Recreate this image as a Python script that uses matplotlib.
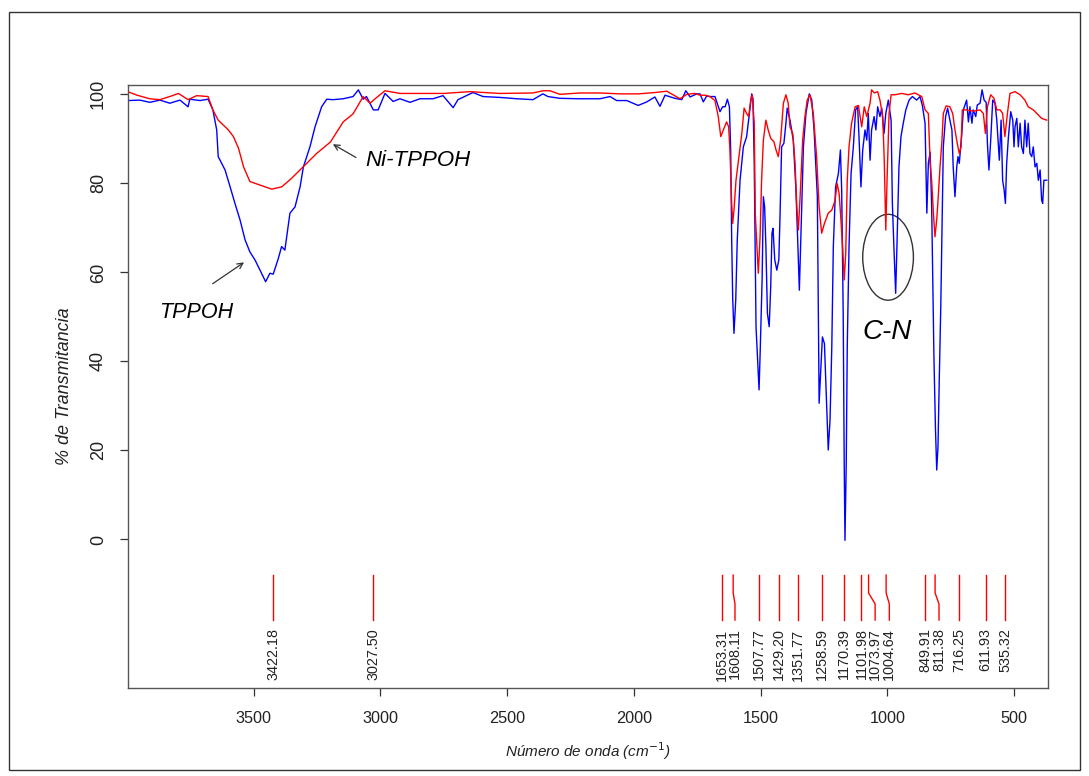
import matplotlib
matplotlib.use("Agg")
import matplotlib.pyplot as plt
from matplotlib.patches import Ellipse, Rectangle

plt.rcParams['font.family'] = ['Liberation Sans', 'DejaVu Sans']

# TPPOH (blue)
tppoh_wn = [3997, 3949, 3910, 3870, 3831, 3791, 3759, 3752, 3712, 3680,
            3661, 3646, 3640, 3613, 3593, 3574, 3554, 3534, 3515, 3495,
            3475, 3453, 3436, 3423, 3403, 3390, 3377, 3357, 3337, 3317,
            3304, 3278, 3258, 3232, 3212, 3187, 3147, 3108, 3087, 3068,
            3055, 3028, 3009, 2982, 2950, 2923, 2883, 2844, 2793, 2753,
            2713, 2694, 2635, 2595, 2528, 2461, 2398, 2359, 2339, 2292,
            2213, 2134, 2094, 2068, 2028, 1983, 1949, 1917, 1897, 1877,
            1838, 1811, 1795, 1778, 1752, 1739, 1726, 1713, 1700, 1680,
            1660, 1650, 1640, 1631, 1623, 1618, 1614, 1610, 1605, 1598,
            1592, 1581, 1568, 1555, 1544, 1535, 1530, 1525, 1518, 1513,
            1506, 1501, 1494, 1489, 1484, 1479, 1473, 1466, 1460, 1455,
            1451, 1444, 1436, 1428, 1423, 1417, 1408, 1400, 1395, 1384,
            1371, 1361, 1354, 1347, 1341, 1331, 1321, 1308, 1298, 1289,
            1276, 1269, 1256, 1248, 1243, 1233, 1226, 1219, 1213, 1204,
            1193, 1185, 1180, 1174, 1170, 1167, 1162, 1158, 1151, 1143,
            1134, 1125, 1117, 1110, 1104, 1097, 1088, 1081, 1075, 1068,
            1062, 1052, 1045, 1038, 1029, 1022, 1013, 1006, 996, 985,
            980, 974, 967, 962, 954, 946, 937, 927, 914, 901,
            884, 871, 862, 851, 844, 838, 831, 825, 821, 816,
            810, 805, 800, 795, 789, 784, 779, 770, 762, 753,
            745, 740, 733, 726, 721, 716, 706, 700, 687, 680,
            674, 666, 661, 651, 645, 634, 626, 618, 610, 605,
            599, 592, 584, 575, 568, 563, 558, 551, 545, 539,
            534, 529, 522, 513, 505, 500, 496, 489, 483, 476,
            470, 463, 457, 450, 444, 437, 430, 424, 417, 410,
            404, 397, 391, 387, 382, 371]
tppoh_t = [98.6, 98.7, 98.2, 98.7, 98.0, 98.7, 97.2, 98.9, 98.6, 98.9,
           96.5, 92.0, 86.0, 83.0, 79.2, 75.5, 71.8, 67.3, 64.6, 62.8,
           60.5, 57.9, 59.8, 59.6, 63.1, 65.8, 65.0, 73.3, 74.7, 79.2,
           83.7, 88.2, 92.7, 97.2, 98.9, 98.8, 99.0, 99.5, 101.0, 98.9,
           99.5, 96.5, 96.5, 100.2, 98.4, 99.0, 98.2, 99.0, 99.0, 99.7,
           97.0, 98.8, 100.4, 99.5, 99.3, 99.0, 98.8, 100.1, 99.5, 99.1,
           99.0, 99.0, 99.5, 98.6, 98.6, 97.5, 98.3, 99.4, 97.3, 99.8,
           99.1, 98.8, 100.8, 99.4, 100.1, 100.1, 98.3, 99.6, 99.5, 99.5,
           96.1, 97.2, 97.2, 98.9, 97.2, 87.5, 67.3, 54.2, 46.3, 53.8,
           67.3, 80.7, 88.2, 90.5, 95.7, 100.1, 99.0, 84.5, 47.8, 41.8,
           33.6, 43.3, 58.3, 77.0, 74.7, 65.8, 50.8, 47.8, 56.8, 68.8,
           69.9, 62.8, 60.5, 62.8, 73.3, 88.2, 89.0, 93.5, 96.9, 94.2,
           89.7, 79.2, 68.0, 56.0, 68.0, 88.2, 95.7, 100.1, 98.7, 92.0,
           77.0, 30.6, 45.5, 44.0, 35.8, 20.1, 26.8, 43.3, 65.8, 79.2,
           82.2, 87.5, 78.5, 50.8, 17.1, -0.2, 17.1, 43.3, 65.8, 82.2,
           88.2, 96.5, 97.2, 88.2, 79.2, 87.5, 92.0, 89.7, 95.7, 85.2,
           92.0, 95.0, 92.0, 97.2, 95.0, 96.9, 91.2, 95.7, 98.7, 94.2,
           75.5, 65.8, 55.3, 65.8, 83.7, 90.5, 93.5, 96.5, 98.7, 99.5,
           98.7, 99.5, 97.6, 93.5, 73.3, 84.5, 87.0, 75.0, 60.0, 41.0,
           25.0, 15.6, 20.8, 35.8, 52.3, 69.5, 88.2, 95.0, 96.9, 94.2,
           92.0, 83.7, 77.0, 83.7, 86.0, 84.5, 91.2, 96.5, 98.7, 93.8,
           97.2, 93.5, 96.5, 95.0, 97.6, 98.0, 101.0, 98.7, 98.2, 89.0,
           83.0, 89.7, 98.7, 98.0, 94.2, 89.7, 85.2, 94.2, 80.7, 78.5,
           75.5, 84.5, 90.5, 96.1, 94.2, 88.2, 92.7, 94.6, 88.2, 93.5,
           88.2, 86.7, 94.2, 88.2, 93.5, 86.7, 86.0, 88.2, 83.7, 84.5,
           80.7, 83.0, 76.2, 75.5, 80.7, 80.7]

# Ni-TPPOH (red)
ni_wn = [3997, 3960, 3910, 3870, 3826, 3797, 3759, 3725, 3680, 3661,
         3640, 3600, 3580, 3560, 3540, 3515, 3475, 3429, 3390, 3351,
         3298, 3252, 3197, 3147, 3108, 3068, 3041, 3021, 2982, 2923,
         2850, 2750, 2647, 2530, 2400, 2357, 2331, 2292, 2213, 2134,
         2055, 1983, 1917, 1870, 1818, 1791, 1760, 1739, 1719, 1700,
         1680, 1667, 1657, 1647, 1634, 1626, 1621, 1614, 1610, 1604,
         1597, 1584, 1574, 1565, 1555, 1547, 1539, 1533, 1525, 1521,
         1515, 1509, 1502, 1496, 1489, 1479, 1470, 1460, 1447, 1439,
         1430, 1421, 1410, 1400, 1391, 1384, 1373, 1364, 1357, 1351,
         1344, 1334, 1325, 1316, 1305, 1292, 1279, 1269, 1259, 1248,
         1233, 1219, 1206, 1198, 1190, 1183, 1175, 1170, 1164, 1158,
         1151, 1141, 1127, 1114, 1101, 1091, 1081, 1068, 1062, 1051,
         1038, 1029, 1018, 1012, 1006, 1001, 993, 985, 970, 943,
         917, 891, 864, 851, 838, 831, 825, 818, 812, 805,
         799, 792, 785, 779, 768, 753, 742, 733, 724, 716,
         709, 704, 687, 661, 634, 621, 613, 605, 592, 579,
         568, 555, 545, 536, 526, 516, 496, 476, 457, 444,
         424, 410, 391, 371]
ni_t = [100.6, 99.8, 99.0, 98.8, 99.6, 100.2, 98.8, 99.7, 99.5, 96.5,
        94.2, 92.0, 90.5, 87.9, 83.7, 80.4, 79.6, 78.7, 79.2, 81.1,
        84.1, 86.7, 89.3, 93.8, 95.6, 99.5, 98.0, 99.0, 100.8, 100.2,
        100.2, 100.2, 100.6, 100.2, 100.3, 100.8, 100.8, 100.0, 100.3, 100.3,
        100.1, 100.1, 100.4, 100.7, 99.0, 100.0, 100.2, 99.8, 99.8, 99.5,
        98.6, 95.0, 90.5, 92.0, 93.8, 92.7, 87.5, 75.5, 71.0, 74.7,
        80.7, 86.7, 91.2, 96.9, 95.7, 95.0, 98.7, 99.9, 93.5, 73.3,
        66.5, 59.8, 68.0, 80.7, 89.7, 94.2, 92.0, 90.1, 89.3, 87.5,
        86.0, 89.7, 98.0, 99.9, 98.0, 92.7, 91.2, 84.5, 74.7, 69.5,
        77.0, 89.7, 95.0, 98.7, 99.9, 95.7, 86.0, 74.7, 68.8, 71.0,
        73.3, 74.0, 76.2, 80.0, 77.7, 71.8, 64.3, 58.3, 64.3, 80.7,
        88.2, 93.5, 97.2, 97.5, 92.7, 97.2, 95.0, 98.0, 101.0, 100.3,
        100.6, 98.7, 95.0, 85.2, 69.5, 80.7, 95.7, 99.9, 99.9, 100.2,
        99.9, 100.3, 99.5, 96.5, 95.7, 84.5, 80.7, 73.3, 68.0, 71.8,
        77.0, 83.7, 89.0, 95.7, 97.4, 97.2, 95.7, 92.0, 89.0, 86.7,
        88.2, 96.5, 96.5, 96.2, 96.5, 95.7, 91.2, 97.2, 99.9, 99.1,
        96.5, 96.5, 95.7, 90.5, 95.7, 100.2, 100.6, 99.9, 98.7, 97.2,
        96.5, 95.7, 94.6, 94.2]

# peak marks: real position, where the label sits, label text
peak_wn = [3422.18, 3027.50, 1653.31, 1608.11, 1507.77, 1429.20, 1351.77, 1258.59,
           1170.39, 1101.98, 1073.97, 1004.64, 849.91, 811.38, 716.25, 611.93, 535.32]
label_wn = [3422.18, 3027.50, 1653.31, 1601, 1507.77, 1429.20, 1351.77, 1258.59,
            1170.39, 1101.98, 1048, 992, 849.91, 796, 716.25, 611.93, 535.32]
peak_txt = ["%.2f" % p for p in peak_wn]

fig = plt.figure(figsize=(10.89, 7.76), dpi=100)
ax = fig.add_axes([0.1173, 0.1138, 0.8448, 0.7767])

ax.plot(tppoh_wn, tppoh_t, color='#0000ff', lw=1.0)
ax.plot(ni_wn, ni_t, color='#ff0000', lw=1.0)

for p, l, s in zip(peak_wn, label_wn, peak_txt):
    ax.plot([p, p, l, l], [-8, -12, -14.5, -18.1], color='red', lw=1.0)
    ax.text(l, -20, s, rotation=90, ha='center', va='top', fontsize=10.4, color='#222222')

ax.set_xlim(3997, 367)
ax.set_ylim(-33.3, 102.1)
ax.set_xticks([3500, 3000, 2500, 2000, 1500, 1000, 500])
ax.set_yticks([0, 20, 40, 60, 80, 100])
ax.tick_params(axis='x', length=6, width=0.9, color='#333333', pad=11, labelsize=11.7, labelcolor='#222222')
ax.tick_params(axis='y', length=6, width=0.9, color='#333333', pad=9, labelsize=13, labelcolor='#222222')
for lab in ax.get_yticklabels():
    lab.set_rotation(90)
    lab.set_va('center')
for sp in ax.spines.values():
    sp.set_color('#555555')
    sp.set_linewidth(1.0)

ax.set_xlabel('Número de onda (cm$^{-1}$)', fontstyle='italic', fontsize=11, color='#222222', labelpad=10)
ax.set_ylabel('% de Transmitancia', fontstyle='italic', fontsize=13, color='#222222', labelpad=12)

arrow = dict(arrowstyle='->', color='#333333', lw=0.9)
ax.annotate('', xy=(3197, 89.1), xytext=(3087, 85.5), arrowprops=arrow)
ax.text(3060, 85.2, 'Ni-TPPOH', fontstyle='italic', fontsize=16, ha='left', va='center')
ax.annotate('', xy=(3529, 62.6), xytext=(3671, 57.1), arrowprops=arrow)
ax.text(3874, 50.9, 'TPPOH', fontstyle='italic', fontsize=15.5, ha='left', va='center')

ax.add_patch(Ellipse((997, 63.4), 200, 19.3, fill=False, ec='#333333', lw=1.0))
ax.text(999, 46.7, 'C-N', fontstyle='italic', fontsize=20, ha='center', va='center')

fig.patches.append(Rectangle((9 / 1089, 6 / 776), 1071 / 1089, 758 / 776, transform=fig.transFigure,
                             fill=False, ec='#333333', lw=1.0))

fig.savefig('out.png', dpi=100)
